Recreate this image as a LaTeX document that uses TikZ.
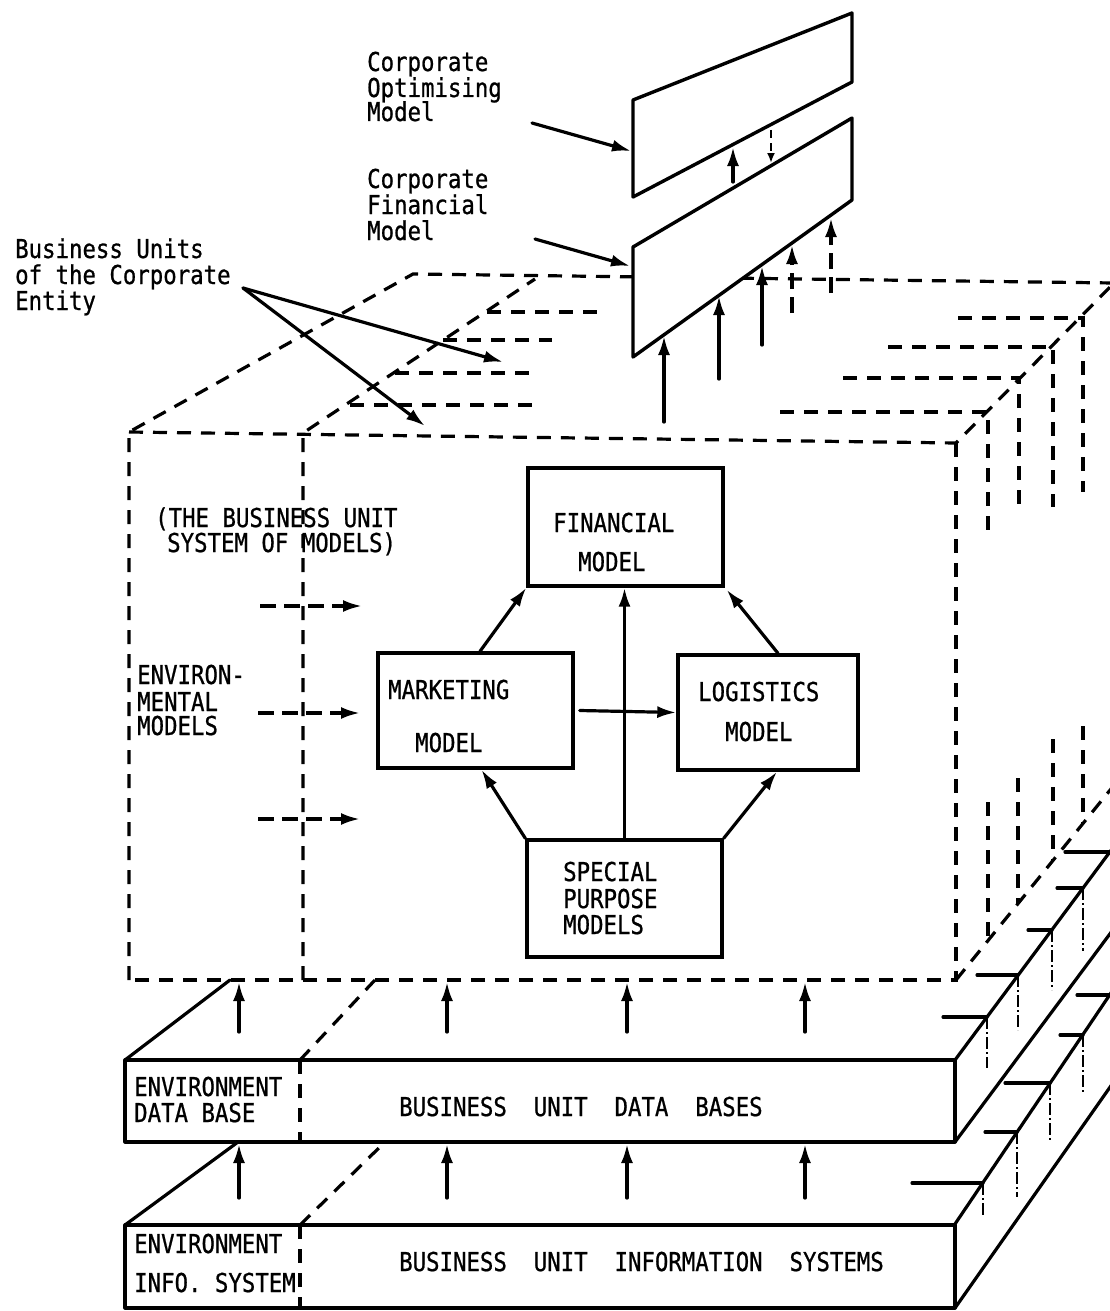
\documentclass[tikz,border=0pt]{standalone}
\usepackage{fontspec}
\newfontfamily\monofnt[FakeStretch=0.86,FakeBold=0.8]{DejaVu Sans Mono}
\usetikzlibrary{arrows.meta,calc}
\begin{document}
\begin{tikzpicture}[x=1pt,y=-1pt,
  ln/.style={line width=3.2pt, line cap=round, line join=round},
  dsh/.style={line width=3.2pt, dash pattern=on 14pt off 10pt},
  arr/.style={ln, -{Latex[length=19pt,width=12pt]}},
  darr/.style={line width=3.2pt, dash pattern=on 16pt off 8pt, -{Latex[length=19pt,width=12pt]}},
  thn/.style={line width=1.5pt, dash pattern=on 12pt off 3pt on 2pt off 3pt},
  txt/.style={font=\monofnt\fontsize{26}{28}\selectfont, inner sep=0pt, anchor=base west},
  box/.style={draw, line width=3.4pt, inner sep=0pt},
  panel/.style={draw, fill=white, line width=3.4pt, line join=round}]
\useasboundingbox (0,0) rectangle (1110,1311);
\clip (0,0) rectangle (1110,1311);

% ---------- dashed cube of business units ----------
\coordinate (c1) at (129,432);
\coordinate (c2) at (413,274);
\coordinate (c3) at (1114,283);
\coordinate (c4) at (956,443);
\coordinate (c5) at (129,980);
\coordinate (c6) at (956,980);
\coordinate (c7) at (1115,784);
\coordinate (d1) at (303,433);
\coordinate (d2) at (303,980);
\coordinate (d3) at (535,279);
\draw[dsh] (c5) -- (c1) -- (c2) -- (c3);
\draw[dsh] (c1) -- (c4) -- (c3);
\draw[dsh] (c4) -- (c6) -- (c5);
\draw[dsh] (d2) -- (d1) -- (d3);
\draw[dsh] (c6) -- (c7);
% hidden units, upper left
\draw[dsh] (487,312) -- (605,312);
\draw[dsh] (443,340) -- (552,340);
\draw[dsh] (395,373) -- (530,373);
\draw[dsh] (350,405) -- (532,405);
% hidden units, right
\draw[dsh] (780,412) -- (988,412) -- (988,537);
\draw[dsh] (843,378) -- (1019,378) -- (1019,505);
\draw[dsh] (888,347) -- (1053,347) -- (1053,507);
\draw[dsh] (958,318) -- (1083,318) -- (1083,492);
\draw[dsh] (988,802) -- (988,940);
\draw[dsh] (1018,778) -- (1018,903);
\draw[dsh] (1053,739) -- (1053,860);
\draw[dsh] (1083,726) -- (1083,823);

% ---------- corporate panels ----------
\coordinate (u1) at (633,100);
\coordinate (u2) at (852,13);
\coordinate (u3) at (852,82);
\coordinate (u4) at (633,197);
\coordinate (l1) at (633,247);
\coordinate (l2) at (852,118);
\coordinate (l3) at (852,200);
\coordinate (l4) at (633,357);
\draw[panel] (u1) -- (u2) -- (u3) -- (u4) -- cycle;
\draw[panel] (l1) -- (l2) -- (l3) -- (l4) -- cycle;

% arrows between / into panels
\coordinate (pa1) at (733,182); \coordinate (pb1) at (733,147);
\draw[arr] (pa1) -- (pb1);
\coordinate (pa2) at (771,130); \coordinate (pb2) at (771,163);
\draw[line width=2.4pt, dash pattern=on 8pt off 5pt, -{Latex[length=10pt,width=8pt]}] (pa2) -- (pb2);
\coordinate (q1a) at (664,422); \coordinate (q1b) at (664,336);
\coordinate (q2a) at (719,379); \coordinate (q2b) at (719,296);
\coordinate (q3a) at (762,345); \coordinate (q3b) at (762,266);
\coordinate (q4a) at (792,313); \coordinate (q4b) at (792,245);
\coordinate (q5a) at (831,293); \coordinate (q5b) at (831,218);
\draw[arr] (q1a) -- (q1b);
\draw[arr] (q2a) -- (q2b);
\draw[arr] (q3a) -- (q3b);
\draw[darr] (q4a) -- (q4b);
\draw[darr] (q5a) -- (q5b);

% ---------- labels, top ----------
\node[txt] (t1) at (367,71) {Corporate};
\node[txt] (t2) at (367,97) {Optimising};
\node[txt] (t3) at (367,121) {Model};
\node[txt] (t4) at (367,188) {Corporate};
\node[txt] (t5) at (367,214) {Financial};
\node[txt] (t6) at (367,240) {Model};
\coordinate (ca1) at (532,123); \coordinate (cb1) at (631,151);
\coordinate (ca2) at (535,239); \coordinate (cb2) at (630,266);
\draw[arr] (ca1) -- (cb1);
\draw[arr] (ca2) -- (cb2);

\node[txt] (b1) at (15,258) {Business Units};
\node[txt] (b2) at (15,284) {of the Corporate};
\node[txt] (b3) at (15,310) {Entity};
\coordinate (bu) at (243,288);
\coordinate (bt1) at (503,362);
\coordinate (bt2) at (425,426);
\draw[arr] (bu) -- (bt1);
\draw[arr] (bu) -- (bt2);

% ---------- inside the cube ----------
\node[txt] (s1) at (155,527) {(THE BUSINESS UNIT};
\node[txt] (s2) at (167,552) {SYSTEM OF MODELS)};
\node[txt] (e1) at (137,684) {ENVIRON-};
\node[txt] (e2) at (137,711) {MENTAL};
\node[txt] (e3) at (137,735) {MODELS};
\coordinate (ea1) at (260,606); \coordinate (eb1) at (362,606);
\coordinate (ea2) at (258,713); \coordinate (eb2) at (360,713);
\coordinate (ea3) at (258,819); \coordinate (eb3) at (360,819);
\draw[darr] (ea1) -- (eb1);
\draw[darr] (ea2) -- (eb2);
\draw[darr] (ea3) -- (eb3);

\node[box, minimum width=195pt, minimum height=118pt] (fin) at (625.5,527) {};
\node[box, minimum width=195pt, minimum height=115pt] (mkt) at (475.5,710.5) {};
\node[box, minimum width=180pt, minimum height=115pt] (log) at (768,712.5) {};
\node[box, minimum width=195pt, minimum height=117pt] (spc) at (624.5,898.5) {};
\node[txt] (f1) at (553,532) {FINANCIAL};
\node[txt] (f2) at (578,571) {MODEL};
\node[txt] (m1) at (388,699) {MARKETING};
\node[txt] (m2) at (415,752) {MODEL};
\node[txt] (g1) at (698,701) {LOGISTICS};
\node[txt] (g2) at (725,741) {MODEL};
\node[txt] (p1) at (563,881) {SPECIAL};
\node[txt] (p2) at (563,908) {PURPOSE};
\node[txt] (p3) at (563,934) {MODELS};

\draw[arr] ([xshift=4.5pt]mkt.north) -- (fin.south west);
\draw[arr] ([xshift=10pt]log.north) -- ([xshift=2pt,yshift=-2pt]fin.south east);
\draw[arr] (spc.north) -- (spc.north |- fin.south);
\draw[arr] ([xshift=5pt]mkt.east) -- (log.west);
\draw[arr] (spc.north west) -- ([xshift=6pt]mkt.south);
\draw[arr] (spc.north east) -- ([xshift=9pt]log.south);

% ---------- data base slab ----------
\draw[ln] (125,1060) rectangle (955,1142);
\draw[ln] (125,1060) -- (230,980);
\draw[dsh] (300,1060) -- (375,980);
\draw[dsh] (300,1060) -- (300,1142);
\draw[ln] (955,1060) -- (1115,845);
\draw[ln] (955,1142) -- (1115,927);
\draw[ln] (943,1017) -- (987,1017);
\draw[ln] (977,975) -- (1018,975);
\draw[ln] (1028,930) -- (1052,930);
\draw[ln] (1057,888) -- (1083,888);
\draw[ln] (1065,852) -- (1110,852);
\draw[thn] (987,1017) -- (987,1068);
\draw[thn] (1018,975) -- (1018,1030);
\draw[thn] (1052,930) -- (1052,990);
\draw[thn] (1083,888) -- (1083,951);
\node[txt] (db1) at (134,1096) {ENVIRONMENT};
\node[txt] (db2) at (134,1122) {DATA BASE};
\node[txt] (db3) at (399,1116) {BUSINESS~~UNIT~~DATA~~BASES};

% ---------- information system slab ----------
\draw[ln] (125,1225) rectangle (955,1308);
\draw[ln] (125,1225) -- (238,1142);
\draw[dsh] (300,1225) -- (385,1142);
\draw[dsh] (300,1225) -- (300,1308);
\draw[ln] (955,1224) -- (1115,987);
\draw[ln] (955,1308) -- (1115,1080);
\draw[ln] (912,1183) -- (983,1183);
\draw[ln] (985,1132) -- (1017,1132);
\draw[ln] (1005,1083) -- (1050,1083);
\draw[ln] (1060,1035) -- (1083,1035);
\draw[ln] (1077,995) -- (1110,995);
\draw[thn] (983,1183) -- (983,1217);
\draw[thn] (1017,1132) -- (1017,1197);
\draw[thn] (1050,1083) -- (1050,1140);
\draw[thn] (1083,1035) -- (1083,1093);
\node[txt] (is1) at (134,1253) {ENVIRONMENT};
\node[txt] (is2) at (134,1292) {INFO. SYSTEM};
\node[txt] (is3) at (399,1271) {BUSINESS~~UNIT~~INFORMATION~~SYSTEMS};

% ---------- upward arrows between layers ----------
\foreach \x [count=\i] in {239,447,627,805}{
  \coordinate (ua\i) at (\x,1032);
  \coordinate (ub\i) at (\x,982);
  \draw[arr] (ua\i) -- (ub\i);
  \coordinate (la\i) at (\x,1198);
  \coordinate (lb\i) at (\x,1144);
  \draw[arr] (la\i) -- (lb\i);
}
\end{tikzpicture}
\end{document}
